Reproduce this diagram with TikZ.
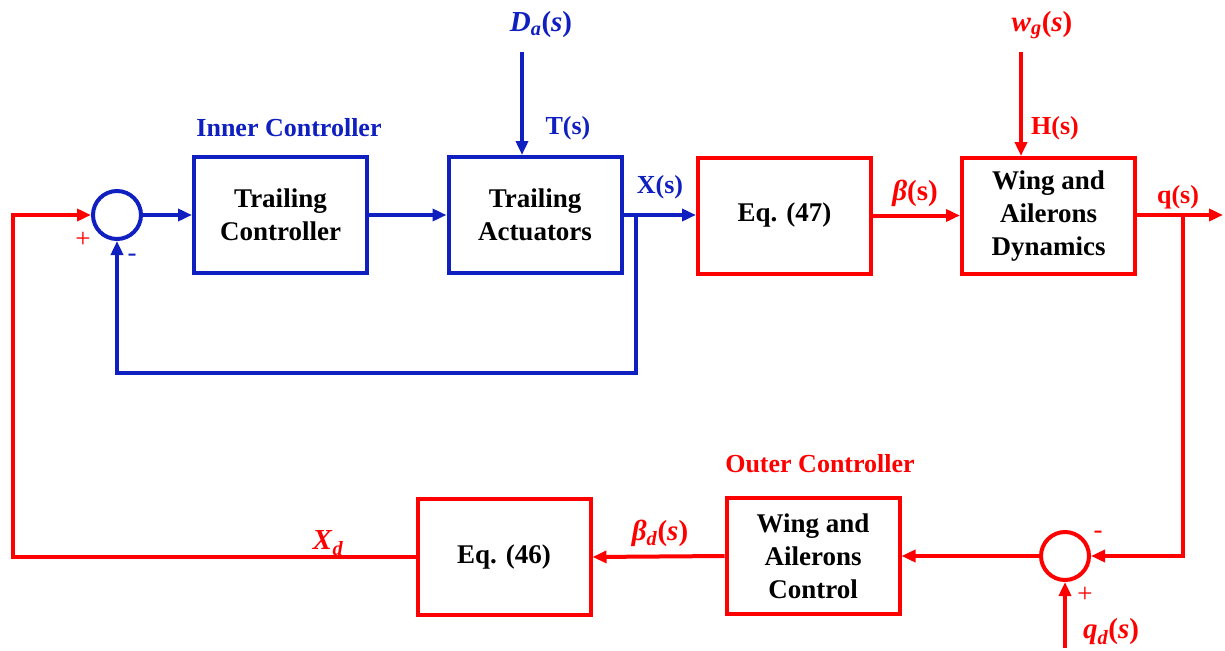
\documentclass[tikz,border=0pt]{standalone}
\usepackage{fontspec}
\setmainfont{Liberation Serif}
\usetikzlibrary{arrows.meta,calc}
\definecolor{cblue}{RGB}{16,32,192}
\definecolor{cred}{RGB}{255,0,0}
\newcommand\mi[1]{\textbf{\textit{#1}}}
\begin{document}
\begin{tikzpicture}[x=1pt,y=-1pt,
 blk/.style={draw,line width=4pt,minimum width=173pt,minimum height=116pt,align=center,font=\fontsize{27}{33}\selectfont\bfseries,text=black,inner sep=0pt},
 sumc/.style={draw,circle,line width=4pt,minimum size=48pt,inner sep=0pt},
 con/.style={line width=4pt,-{Triangle[length=14pt,width=12pt]}},
 lbl/.style={font=\fontsize{26}{30}\selectfont\bfseries,inner sep=0pt},
 mlbl/.style={font=\fontsize{29}{32}\selectfont\bfseries,inner sep=0pt},
 sgn/.style={font=\fontsize{27}{28}\selectfont,inner sep=0pt}]
\useasboundingbox (0,0) rectangle (1225,650);

% blocks
\node[sumc,draw=cblue] (s1) at (117,215) {};
\node[blk,draw=cblue] (tc) at (280.5,215) {Trailing\\Controller};
\node[blk,draw=cblue] (ta) at (535,215) {Trailing\\Actuators};
\node[blk,draw=cred] (e47) at (784.5,215.5) {Eq. (47)};
\node[blk,draw=cred] (wad) at (1048.5,216) {Wing and\\Ailerons\\Dynamics};
\node[blk,draw=cred] (e46) at (504,557) {Eq. (46)};
\node[blk,draw=cred] (wac) at (813,556) {Wing and\\Ailerons\\Control};
\node[sumc,draw=cred] (s2) at (1065,556) {};

% labels
\node[lbl,text=cblue] (ic) at (289,128) {Inner Controller};
\node[lbl,text=cblue] (ts) at (568,128) {T(s)};
\node[mlbl,text=cblue] (das) at (541,25) {\mi{D}\textsubscript{\mi{a}}(\mi{s})};
\node[lbl,text=cblue] (xs) at (660,187) {X(s)};
\node[mlbl,text=cred] (bs) at (915,193) {\mi{β}(s)};
\node[mlbl,text=cred] (wgs) at (1042,25) {\mi{w}\textsubscript{\mi{g}}(\mi{s})};
\node[lbl,text=cred] (hs) at (1055,128) {H(s)};
\node[lbl,text=cred] (qs) at (1178,197) {q(s)};
\node[lbl,text=cred] (oc) at (820,464) {Outer Controller};
\node[mlbl,text=cred] (bds) at (660,533) {\mi{β}\textsubscript{\mi{d}}(\mi{s})};
\node[mlbl,text=cred] (xd) at (328,543) {\mi{X}\textsubscript{\mi{d}}};
\node[mlbl,text=cred] (qds) at (1111,632) {\mi{q}\textsubscript{\mi{d}}(\mi{s})};

% signs
\node[sgn,text=cred] (p1) at (83,240) {+};
\node[sgn,text=cblue] (m1) at (132,258) {-};
\node[sgn,text=cred] (m2) at (1098,535) {-};
\node[sgn,text=cred] (p2) at (1085,595) {+};

% coordinates
\coordinate (b1) at (636,215);
\coordinate (fb1) at (636,373);
\coordinate (da) at (522,52);
\coordinate (wg) at (1021,52);
\coordinate (out) at (1223,215);
\coordinate (b2) at (1183,215);
\coordinate (qd) at (1065,648);
\coordinate (fbl) at (13,557);

% blue connectors
\draw[con,cblue] (s1.east) -- (tc.west);
\draw[con,cblue] (tc.east) -- (ta.west);
\draw[con,cblue] (ta.east) -- (e47.west |- ta.east);
\draw[con,cblue] (da) -- (da |- ta.north);
\draw[con,cblue] (b1) -- (fb1) -| (s1.south);

% red connectors
\draw[con,cred] (e47.east) -- (e47.east -| wad.west);
\draw[con,cred] (wg) -- (wg |- wad.north);
\draw[con,cred] (wad.east |- out) -- (out);
\draw[con,cred] (b2) |- (s2.east);
\draw[con,cred] (qd) -- (s2.south);
\draw[con,cred] (s2.west) -- (wac.east);
\draw[con,cred] (wac.west) -- (e46.east);
\draw[con,cred] (e46.west) -- (fbl) |- (s1.west);
\end{tikzpicture}
\end{document}
